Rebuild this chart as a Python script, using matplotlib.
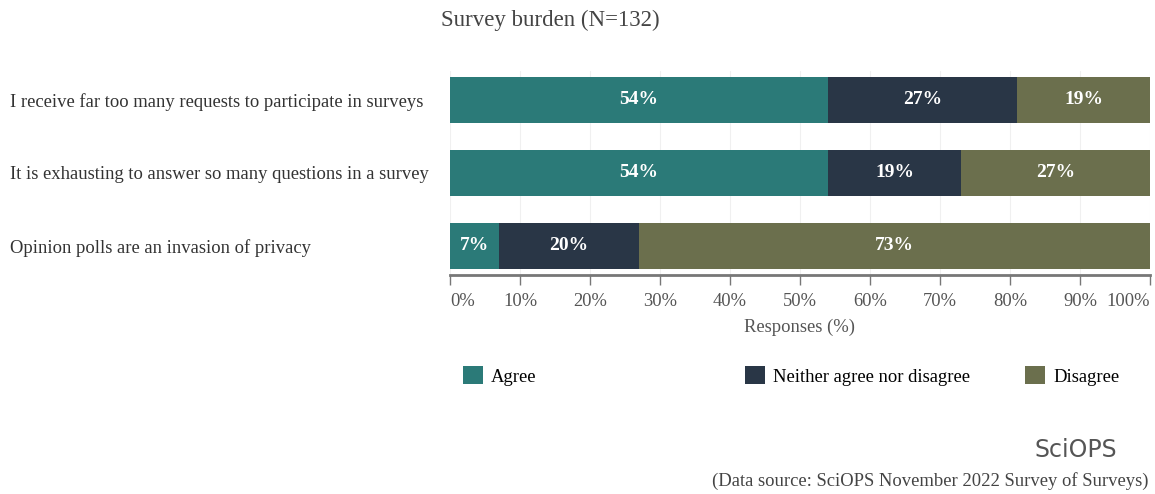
import matplotlib.pyplot as plt
import numpy as np

plt.rcParams['font.family'] = ['Liberation Serif', 'DejaVu Serif']

# Survey burden statements and response shares (%)
statements = [
    "I receive far too many requests to participate in surveys",
    "It is exhausting to answer so many questions in a survey",
    "Opinion polls are an invasion of privacy",
]
agree = [54, 54, 7]
neither = [27, 19, 20]
disagree = [19, 27, 73]

series_names = ["Agree", "Neither agree nor disagree", "Disagree"]
colors = ["#2b7a78", "#293646", "#6b6f4d"]
tick_values = list(range(0, 101, 10))

fig = plt.figure(figsize=(11.55, 4.94), dpi=100)
ax = fig.add_axes([450 / 1155, 0.4433, 700 / 1155, 0.4135])

y = np.arange(len(statements))
left = np.zeros(len(statements))
handles = []
for name, vals, col in zip(series_names, [agree, neither, disagree], colors):
    vals = np.array(vals, dtype=float)
    bars = ax.barh(y, vals, left=left, height=0.63, color=col, label=name, zorder=2)
    handles.append(bars)
    for yi, l, v in zip(y, left, vals):
        ax.text(l + v / 2, yi, f"{v:.0f}%", ha='center', va='center',
                color='white', fontsize=14, fontweight='bold', zorder=3)
    left += vals

ax.set_xlim(0, 100)
ax.set_ylim(len(statements) - 0.6, -0.4)
ax.set_xticks(tick_values)
ax.set_xticklabels([f"{t}%" for t in tick_values], fontsize=13.3, color='#555555')
# keep the end labels inside the axis span
xlabels = ax.get_xticklabels()
xlabels[0].set_horizontalalignment('left')
xlabels[-1].set_horizontalalignment('right')
ax.set_yticks(y)
ax.set_yticklabels(statements, fontsize=13.4, color='#333333')
ax.tick_params(axis='y', length=0, pad=0)
for lab in ax.get_yticklabels():
    lab.set_horizontalalignment('left')
    lab.set_x(-440 / 700)
ax.tick_params(axis='x', length=7, width=1, color='#777777', pad=6)
ax.grid(axis='x', color='#f0f0f0', linewidth=0.8, zorder=0)
for side in ['top', 'right', 'left']:
    ax.spines[side].set_visible(False)
ax.spines['bottom'].set_color('#777777')
ax.spines['bottom'].set_linewidth(2)
ax.set_xlabel("Responses (%)", fontsize=13.4, color='#555555', labelpad=6)

fig.text(550 / 1155, 1 - 20 / 494, "Survey burden (N=132)", ha='center', va='center',
         fontsize=16.5, color='#444444')

# one legend entry per column position
legend_x = [463, 745, 1025]
for h, name, lx in zip(handles, series_names, legend_x):
    leg = fig.legend(handles=[h], labels=[name], loc='center left',
                     bbox_to_anchor=(lx / 1155, 1 - 376 / 494), frameon=False,
                     fontsize=13.4, handlelength=1.07, handleheight=1.07,
                     handletextpad=0.45, borderpad=0, borderaxespad=0)

fig.text(1076 / 1155, 1 - 450 / 494, "SciOPS", ha='center', va='center',
         fontsize=17, color='#555555', family='DejaVu Sans')
fig.text(1148 / 1155, 1 - 481 / 494, "(Data source: SciOPS November 2022 Survey of Surveys)",
         ha='right', va='center', fontsize=13.4, color='#444444')

fig.savefig("out.png", dpi=100)
